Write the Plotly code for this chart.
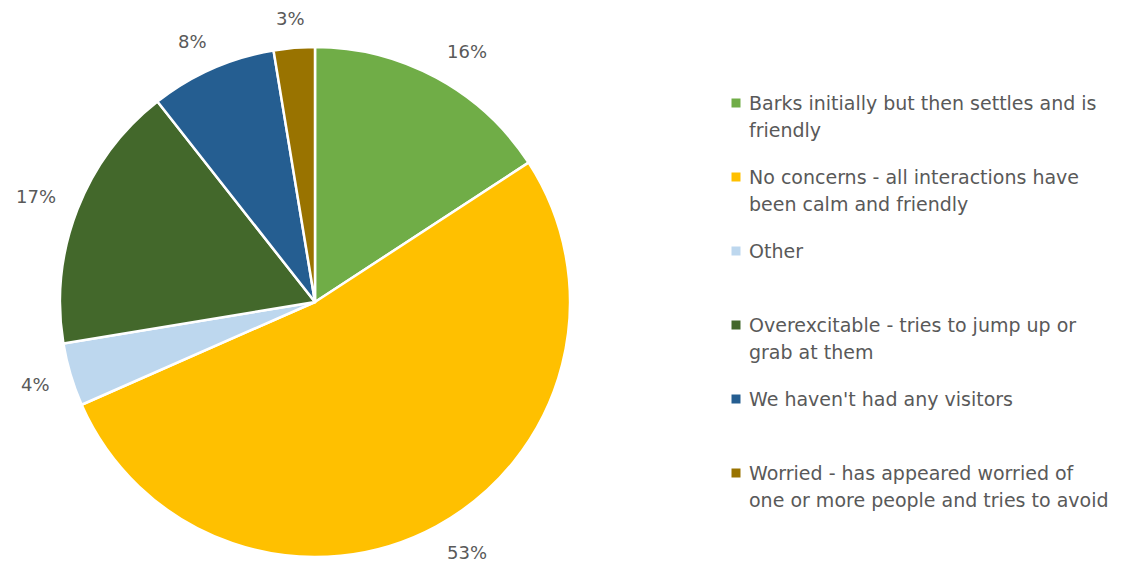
import math
import plotly.graph_objects as go

# ---- data ----
categories = [
    "Barks initially but then settles and is<br>friendly",
    "No concerns - all interactions have<br>been calm and friendly",
    "Other",
    "Overexcitable - tries to jump up or<br>grab at them",
    "We haven't had any visitors",
    "Worried - has appeared worried of<br>one or more people and tries to avoid",
]
values = [15.8, 52.6, 4.0, 17.0, 8.0, 2.6]
colors = ["#70AD47", "#FFC000", "#BDD7EE", "#43682B", "#255E91", "#997300"]

# ---- layout constants (page pixels, from top-left) ----
W, H = 1124, 569
OFF = 8                      # default page body margin
Wf, Hf = W - OFF, H - OFF    # figure size


def px(x):
    return (x - OFF) / Wf


def py(y):
    return 1 - (y - OFF) / Hf


cx, cy, r = 315, 302, 255    # pie centre and radius
gap = 23                      # gap between rim and label box
text_color = "#595959"
font_family = "'DejaVu Sans', sans-serif"
pct_size = 18
leg_size = 19

fig = go.Figure(
    go.Pie(
        labels=[c.replace("<br>", " ") for c in categories],
        values=values,
        sort=False,
        direction="clockwise",
        rotation=0,
        marker=dict(colors=colors, line=dict(color="white", width=2.5)),
        textinfo="none",
        showlegend=False,
        domain=dict(x=[px(cx - r), px(cx + r)], y=[py(cy + r), py(cy - r)]),
    )
)

annotations = []
shapes = []
total = sum(values)
cum = 0.0
for v in values:
    mid = (cum + v / 2) / total * 2 * math.pi
    cum += v
    txt = f"{round(v / total * 100)}%"
    hw = len(txt) * 6.7
    hh = 6
    s, c = math.sin(mid), math.cos(mid)
    ax = cx + (r + gap) * s
    ay = cy - (r + gap) * c
    x = ax + hw * min(1.0, abs(s) * 2) * math.copysign(1, s)
    y = ay - hh * min(1.0, abs(c) * 2) * math.copysign(1, c)
    annotations.append(dict(
        x=px(x), y=py(y), xref="paper", yref="paper",
        text=txt, showarrow=False,
        xanchor="center", yanchor="middle",
        font=dict(family=font_family, size=pct_size, color=text_color),
    ))

# ---- manual legend ----
leg_x_marker = 736
leg_x_text = 747
first_y = 103
step = 74
line_h = 27
for i, (cat, col) in enumerate(zip(categories, colors)):
    ytop = first_y + step * i
    shapes.append(dict(
        type="rect", xref="paper", yref="paper",
        x0=px(leg_x_marker - 4.5), x1=px(leg_x_marker + 4.5),
        y0=py(ytop + 4.5), y1=py(ytop - 4.5),
        fillcolor=col, line=dict(width=0),
    ))
    for j, line in enumerate(cat.split("<br>")):
        yy = ytop + j * line_h
        annotations.append(dict(
            x=px(leg_x_text), y=py(yy), xref="paper", yref="paper",
            text=line, showarrow=False, xanchor="left", yanchor="middle",
            font=dict(family=font_family, size=leg_size, color=text_color),
        ))

fig.update_layout(
    width=Wf, height=Hf,
    margin=dict(l=0, r=0, t=0, b=0),
    paper_bgcolor="white", plot_bgcolor="white",
    annotations=annotations, shapes=shapes,
    showlegend=False,
)

fig.write_html("out.html")
